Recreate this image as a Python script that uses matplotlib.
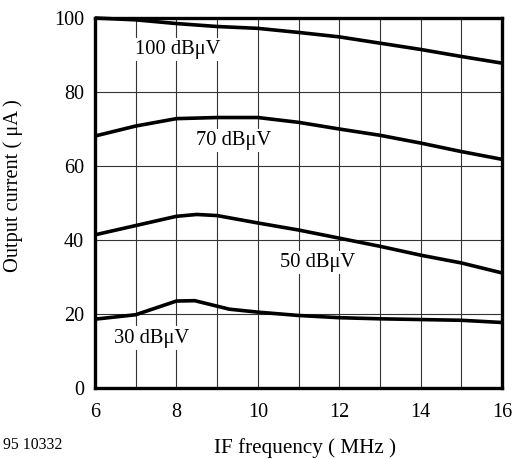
import matplotlib
matplotlib.use("Agg")
import matplotlib.pyplot as plt

# IF frequency (MHz) and output current (uA) per input level
freq_100 = [6, 7, 8, 9, 10, 11, 12, 13, 14, 15, 16]
curr_100 = [100, 99.5, 98.5, 97.7, 97.2, 96.1, 94.9, 93.2, 91.5, 89.6, 87.8]

freq_70 = [6, 7, 8, 9, 10, 11, 12, 13, 14, 15, 16]
curr_70 = [68.1, 70.8, 72.8, 73.1, 73.1, 71.8, 70.0, 68.3, 66.2, 63.9, 61.8]

freq_50 = [6, 7, 8, 8.5, 9, 10, 11, 12, 13, 14, 15, 16]
curr_50 = [41.4, 43.9, 46.4, 46.9, 46.6, 44.6, 42.7, 40.5, 38.3, 35.9, 33.8, 31.1]

freq_30 = [6, 7, 8, 8.45, 9.3, 10, 11, 12, 13, 14, 15, 16]
curr_30 = [18.6, 19.8, 23.5, 23.6, 21.3, 20.5, 19.6, 19.0, 18.7, 18.5, 18.3, 17.7]

labels = ["100 dBμV", "70 dBμV", "50 dBμV", "30 dBμV"]
label_x = [8.03, 9.4, 11.48, 7.38]
label_y = [91.4, 67.0, 33.8, 13.5]

plt.rcParams['font.family'] = ['Liberation Serif', 'DejaVu Serif']

fig = plt.figure(figsize=(5.15, 4.59), dpi=100)
ax = fig.add_axes([0.1845, 0.1547, 0.7903, 0.8061])

ax.set_xlim(6, 16)
ax.set_ylim(0, 100)
ax.set_xticks(range(6, 17, 2))
ax.set_yticks(range(0, 101, 20))
ax.set_xticks(range(6, 17), minor=True)
ax.grid(True, which='both', axis='x', color='#333333', linewidth=0.8)
ax.grid(True, which='major', axis='y', color='#333333', linewidth=0.8)
ax.set_axisbelow(True)
ax.tick_params(which='both', length=0, labelsize=14.5)
ax.tick_params(axis='x', pad=11)
ax.tick_params(axis='y', pad=8)

for s in ax.spines.values():
    s.set_linewidth(2.4)

for fx, cy in [(freq_100, curr_100), (freq_70, curr_70), (freq_50, curr_50), (freq_30, curr_30)]:
    ax.plot(fx, cy, color='black', linewidth=2.6, solid_capstyle='butt', clip_on=False, zorder=3)

for t, lx, ly in zip(labels, label_x, label_y):
    ax.text(lx, ly, t, fontsize=14.8, ha='center', va='center', zorder=4,
            bbox=dict(facecolor='white', edgecolor='none', pad=1.5))

ax.set_xlabel("IF frequency ( MHz )", fontsize=15.2)
ax.set_ylabel("Output current ( μA )", fontsize=14.7)
ax.xaxis.set_label_coords(0.515, -0.135)
ax.yaxis.set_label_coords(-0.177, 0.548)

fig.text(0.006, 0.031, "95 10332", fontsize=11.3, ha='left', va='center')

fig.savefig("out.png", dpi=100)
